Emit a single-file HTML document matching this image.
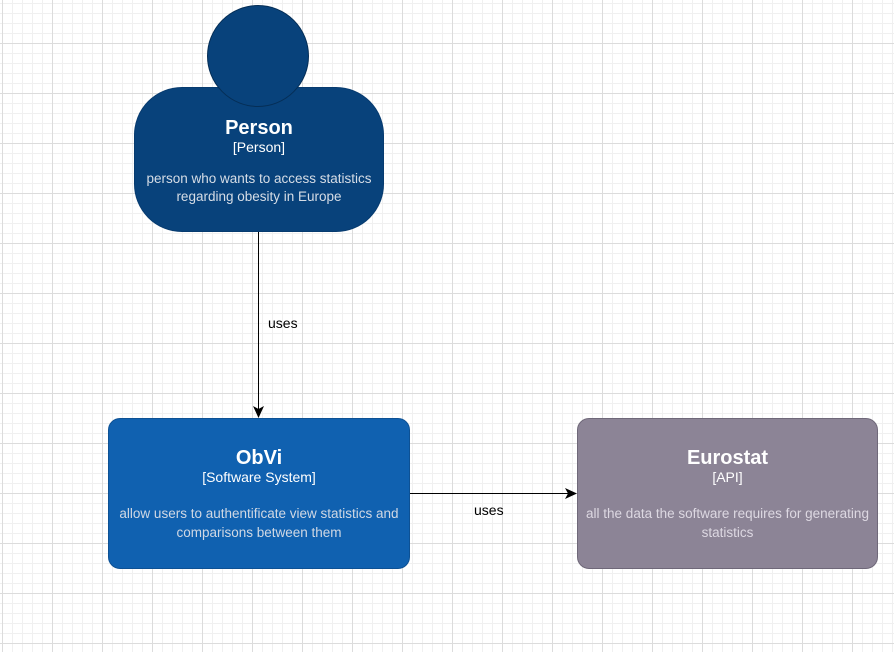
<!DOCTYPE html>
<html><head><style>
body{margin:0;width:894px;height:652px;overflow:hidden;font-family:"Liberation Sans",sans-serif;
background-color:#fff;
background-image:
linear-gradient(#dcdcdc 1px,transparent 1px),linear-gradient(90deg,#dcdcdc 1px,transparent 1px),
linear-gradient(#f0f0f0 1px,transparent 1px),linear-gradient(90deg,#f0f0f0 1px,transparent 1px);
background-size:50px 50px,50px 50px,10px 10px,10px 10px;
background-position:0 43px,2px 0,0 3px,2px 0;position:relative}
.b{position:absolute;box-sizing:border-box;color:#fff;text-align:center}
.t{font-weight:bold;font-size:20px;line-height:22px}
.s{font-size:14px;line-height:17px;margin-top:0}
.d{font-size:13.5px;color:#d6dde6;line-height:19px;margin-top:18px}
.l{position:absolute;font-size:14px;color:#000}
</style></head><body>
<div class="b" style="left:134px;top:87px;width:250px;height:145px;background:#08427b;border:1px solid #073b6f;border-radius:48px;padding-top:29px">
<div class="t">Person</div><div class="s">[Person]</div>
<div class="d" style="margin-top:14px;line-height:18px">person who wants to access statistics<br>regarding obesity in Europe</div></div>
<div class="b" style="left:207px;top:5px;width:102px;height:102px;border-radius:50%;background:#08427b;border:1px solid #052e56"></div>
<div class="b" style="left:108px;top:418px;width:302px;height:151px;background:#1061b0;border:1px solid #0d5194;border-radius:12px;padding-top:28px">
<div class="t">ObVi</div><div class="s">[Software System]</div>
<div class="d" style="color:#d0d8e4">allow users to authentificate view statistics and<br>comparisons between them</div></div>
<div class="b" style="left:577px;top:418px;width:301px;height:151px;background:#8c8496;border:1px solid #6f6879;border-radius:12px;padding-top:28px">
<div class="t">Eurostat</div><div class="s">[API]</div>
<div class="d" style="color:#ddd8e2">all the data the software requires for generating<br>statistics</div></div>
<svg style="position:absolute;left:0;top:0" width="894" height="652">
<line x1="258.5" y1="232" x2="258.5" y2="410" stroke="#000" stroke-width="1"/>
<path d="M253 406 L258.5 418 L264 406 L258.5 409Z" fill="#000"/>
<line x1="410" y1="493.5" x2="569" y2="493.5" stroke="#000"/>
<path d="M565 488 L577 493.5 L565 499 L568 493.5Z" fill="#000"/>
</svg>
<div class="l" style="left:268px;top:315px">uses</div>
<div class="l" style="left:474px;top:502px">uses</div>
</body></html>
